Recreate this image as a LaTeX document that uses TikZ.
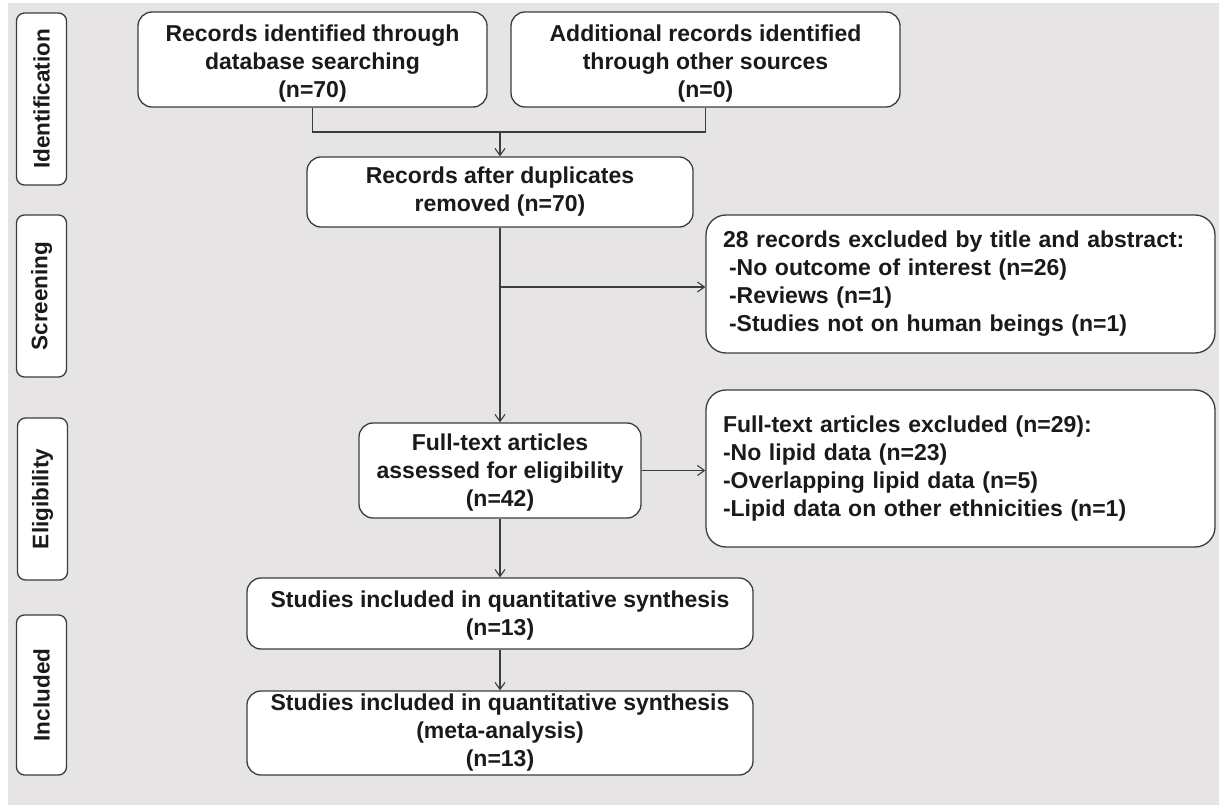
\documentclass[tikz,border=0pt]{standalone}
\usepackage{fontspec}
\setmainfont{Liberation Sans}
\usetikzlibrary{arrows.meta}
\definecolor{bgc}{HTML}{E6E4E4}
\definecolor{linec}{HTML}{3C3C3C}
\definecolor{txtc}{HTML}{1A1A1A}
\tikzset{
  box/.style={draw=linec, fill=white, line width=1.3pt, rounded corners=14pt,
    inner sep=0pt, align=center, text=txtc,
    font=\fontsize{23}{28}\selectfont\bfseries},
  sidebox/.style={draw=linec, fill=white, line width=1.3pt, rounded corners=8pt,
    inner sep=0pt, rotate=90, minimum height=50pt, text=txtc,
    font=\fontsize{22.5}{26}\selectfont\bfseries},
  listbox/.style={draw=linec, fill=white, line width=1.3pt, rounded corners=20pt,
    inner xsep=17pt, inner ysep=0pt, text width=475pt, align=left, text=txtc,
    font=\fontsize{23}{28}\selectfont\bfseries},
  conn/.style={draw=linec, line width=1.2pt},
  arr/.style={conn, -{Straight Barb[length=7pt,width=10pt,line width=1.1pt]}}
}
\begin{document}
\begin{tikzpicture}[x=1pt,y=-1pt]
\useasboundingbox (0,0) rectangle (1219,805);
\fill[white] (0,0) rectangle (1219,805);
\fill[bgc] (8,3) rectangle (1219,805);

% side labels
\node[sidebox, minimum width=172pt] (idn) at (41.5,99) {Identification};
\node[sidebox, minimum width=162pt] (scr) at (41.5,296) {Screening};
\node[sidebox, minimum width=162pt] (eli) at (42.5,499) {Eligibility};
\node[sidebox, minimum width=160pt] (inc) at (41.5,695) {Included};

% main boxes
\node[box, minimum width=349pt, minimum height=95pt] (A) at (312.5,59.5)
  {\rule{0pt}{25pt}Records identified through\\database searching\\(n=70)};
\node[box, minimum width=389pt, minimum height=95pt] (B) at (705.5,59.5)
  {\rule{0pt}{25pt}Additional records identified\\through other sources\\(n=0)};
\node[box, minimum width=386pt, minimum height=70pt] (C) at (500,192)
  {Records after duplicates\\removed (n=70)};
\node[listbox, minimum height=138pt] (E) at (960.5,284)
  {28 records excluded by title and abstract:\\
   \hspace*{6pt}-No outcome of interest (n=26)\\
   \hspace*{6pt}-Reviews (n=1)\\
   \hspace*{6pt}-Studies not on human beings (n=1)};
\node[box, minimum width=282pt, minimum height=95pt] (D) at (500,470.5)
  {\rule{0pt}{21pt}Full-text articles\\assessed for eligibility\\(n=42)};
\node[listbox, minimum height=157pt] (F) at (960.5,468.5)
  {Full-text articles excluded (n=29):\\
   -No lipid data (n=23)\\
   -Overlapping lipid data (n=5)\\
   -Lipid data on other ethnicities (n=1)};
\node[box, minimum width=506pt, minimum height=71pt] (G) at (500,613.5)
  {\rule{0pt}{21pt}Studies included in quantitative synthesis\\(n=13)};
\node[box, minimum width=506pt, minimum height=84pt] (H) at (500,733)
  {Studies included in quantitative synthesis\\(meta-analysis)\\(n=13)};

% connectors
\coordinate (j) at (500,132);
\draw[conn] (A.south) |- (j) -| (B.south);
\draw[arr] (j) -- (C.north);
\coordinate (k) at (500,287);
\draw[arr] (C.south) -- (D.north);
\draw[arr] (k) -- (k -| E.west);
\draw[arr] (D.east) -- (D.east -| F.west);
\draw[arr] (D.south) -- (G.north);
\draw[arr] (G.south) -- (H.north);
\end{tikzpicture}
\end{document}
